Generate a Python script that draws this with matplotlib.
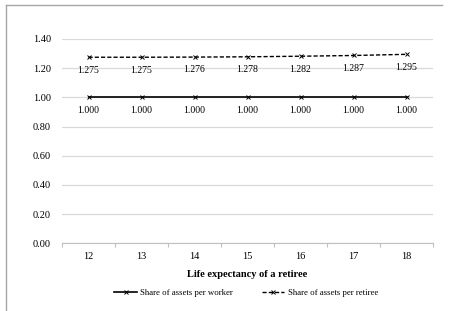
import matplotlib
matplotlib.use("Agg")
import matplotlib.pyplot as plt
from matplotlib.lines import Line2D

categories = [12, 13, 14, 15, 16, 17, 18]
worker = [1.000, 1.000, 1.000, 1.000, 1.000, 1.000, 1.000]
retiree = [1.275, 1.275, 1.276, 1.278, 1.282, 1.287, 1.295]
yticks = [0.0, 0.2, 0.4, 0.6, 0.8, 1.0, 1.2, 1.4]

plt.rcParams['font.family'] = ['Liberation Serif', 'DejaVu Serif']

fig = plt.figure(figsize=(4.54, 3.11), dpi=100)
W, H = 454, 311
ax = fig.add_axes([62 / W, 1 - 243.3 / H, (433 - 62) / W, (243.3 - 39) / H])

x = list(range(len(categories)))
ax.plot(x, worker, color='black', lw=1.2, marker='x', ms=3.5, mew=0.7)
ax.plot(x, retiree, color='black', lw=1.0, ls=(0, (3, 1.5)), marker='x', ms=3.5, mew=0.7)

for xi, v in zip(x, worker):
    ax.annotate(f"{v:.3f}", (xi, v), xytext=(0, -6), textcoords='offset points',
                ha='center', va='top', fontsize=7)
for xi, v in zip(x, retiree):
    ax.annotate(f"{v:.3f}", (xi, v), xytext=(0, -6), textcoords='offset points',
                ha='center', va='top', fontsize=7)

ax.set_xlim(-0.5, len(categories) - 0.5)
ax.set_ylim(0, 1.4)
ax.set_yticks(yticks)
ax.set_yticklabels([f"{t:.2f}" for t in yticks], fontsize=7.5)
ax.set_xticks(x)
ax.set_xticklabels([str(c) for c in categories], fontsize=7.5)
ax.set_xticks([i - 0.5 for i in range(len(categories) + 1)], minor=True)
ax.tick_params(axis='x', which='major', length=0, pad=6)
ax.tick_params(axis='x', which='minor', length=3, color='#bfbfbf', width=0.8)
ax.tick_params(axis='y', length=0, pad=8)
ax.grid(axis='y', color='#d9d9d9', lw=0.9)
ax.set_axisbelow(True)
for s in ['top', 'right', 'left']:
    ax.spines[s].set_visible(False)
ax.spines['bottom'].set_color('#bfbfbf')
ax.spines['bottom'].set_linewidth(0.8)

ax.set_xlabel("Life expectancy of a retiree", fontsize=7.5, fontweight='bold', labelpad=7)

handles = [Line2D([], [], color='black', lw=1.2, marker='x', ms=3.5, mew=0.7),
           Line2D([], [], color='black', lw=1.0, ls=(0, (3, 1.5)), marker='x', ms=3.5, mew=0.7)]
fig.legend(handles, ["Share of assets per worker", "Share of assets per retiree"],
           loc='center', bbox_to_anchor=(246 / W, 1 - 293 / H), ncol=2, frameon=False,
           fontsize=6.3, handlelength=2.6, columnspacing=3.3, handletextpad=0.35)

# chart border (top and left edges)
fig.add_artist(Line2D([6 / W, 442 / W], [1 - 5 / H, 1 - 5 / H], color='#a6a6a6', lw=1.0))
fig.add_artist(Line2D([6 / W, 6 / W], [1 - 5 / H, 0], color='#a6a6a6', lw=1.0))

fig.savefig("out.png", dpi=100)
